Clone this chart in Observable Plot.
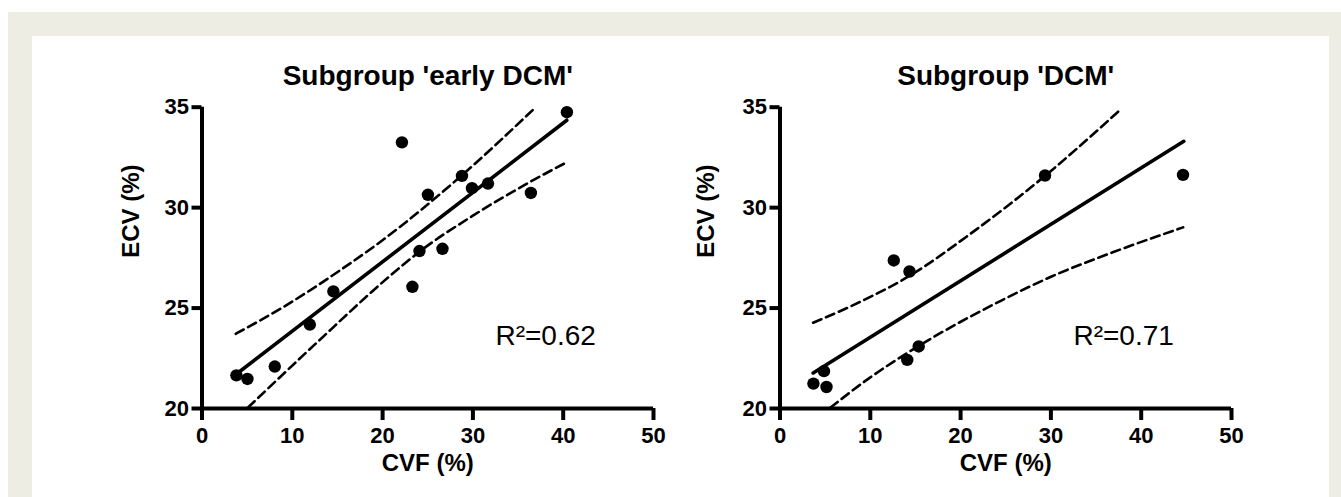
<!DOCTYPE html>
<html>
<head>
<meta charset="utf-8">
<script src="https://cdn.jsdelivr.net/npm/d3@7"></script>
<script src="https://cdn.jsdelivr.net/npm/@observablehq/plot@0.6"></script>
<style>
  html, body { margin: 0; padding: 0; background: #ffffff; }
  body { width: 1341px; height: 497px; position: relative; overflow: hidden; font-family: "Liberation Sans", Arial, sans-serif; }
  #frame { position: absolute; left: 8px; top: 12px; right: 0; bottom: 0; background: #eeede3; }
  #inner { position: absolute; left: 32px; top: 36px; width: 1297px; bottom: 0; background: #ffffff; }
  .panel { position: absolute; top: 0; }
</style>
</head>
<body>
<div id="frame"></div>
<div id="inner"></div>
<div id="left" class="panel" style="left:0px"></div>
<div id="right" class="panel" style="left:670px"></div>
<script>
// ---- data ----
const titles = ["Subgroup 'early DCM'", "Subgroup 'DCM'"];
const r2Labels = ["R²=0.62", "R²=0.71"];
const xLabel = "CVF (%)";
const yLabel = "ECV (%)";
const xTicks = [0, 10, 20, 30, 40, 50];
const yTicks = [20, 25, 30, 35];

// subgroup 'early DCM'
const earlyCVF = [3.81, 5.03, 8.06, 11.94, 14.55, 22.14, 23.3, 24.08, 25.02, 26.63, 28.79, 29.9, 31.67, 36.42, 40.41];
const earlyECV = [21.65, 21.47, 22.09, 24.18, 25.83, 33.25, 26.06, 27.84, 30.64, 27.95, 31.58, 30.97, 31.2, 30.73, 34.75];
const earlyFitCVF = [4.0, 40.4];
const earlyFitECV = [21.78, 34.35];
const earlyUpperCVF = [3.74, 9.0, 15.26, 19.7, 28.5, 36.77];
const earlyUpperECV = [23.72, 25.05, 26.87, 28.28, 31.5, 34.92];
const earlyLowerCVF = [5.1, 13.0, 20.81, 24.06, 30.0, 36.41, 40.4];
const earlyLowerECV = [20.05, 23.4, 26.6, 27.8, 29.6, 31.3, 32.26];

// subgroup 'DCM'
const dcmCVF = [3.70, 4.87, 5.15, 12.6, 14.34, 14.09, 15.36, 29.35, 44.63];
const dcmECV = [21.24, 21.86, 21.07, 27.37, 26.82, 22.42, 23.09, 31.6, 31.63];
const dcmFitCVF = [3.67, 44.72];
const dcmFitECV = [21.77, 33.3];
const dcmUpperCVF = [3.67, 8.17, 14.33, 21.1, 29.4, 37.63];
const dcmUpperECV = [24.27, 25.16, 26.6, 28.7, 31.6, 34.85];
const dcmLowerCVF = [5.6, 10.0, 15.2, 24.4, 30.07, 37.0, 44.65];
const dcmLowerECV = [20.05, 21.55, 23.07, 25.35, 26.57, 27.8, 29.02];

// annotation position (data units)
const r2Pos = {x: 32.5, y: 23.62};

const zip = (xs, ys) => xs.map((x, i) => ({x, y: ys[i]}));

function panel({title, r2, pts, fit, upper, lower, marginLeft, width, ylabDx}) {
  const font = '"Liberation Sans", Arial, Helvetica, sans-serif';
  return Plot.plot({
    width,
    height: 497,
    marginLeft,
    marginRight: width - marginLeft - 451.5,
    marginTop: 106.7,
    marginBottom: 89,
    style: {background: "transparent", overflow: "visible", fontFamily: font, fontSize: "22px", fontWeight: "bold", color: "black"},
    x: {domain: [0, 50], label: null},
    y: {domain: [20, 35], label: null},
    marks: [
      Plot.ruleY([20], {x1: 0, x2: 50, stroke: "black", strokeWidth: 4}),
      Plot.ruleX([0], {y1: 20, y2: 35, stroke: "black", strokeWidth: 4}),
      Plot.axisX({ticks: xTicks, tickSize: 12, tickPadding: 7, strokeWidth: 4, fontSize: 22, fontWeight: "bold", label: null, tickFormat: d3.format("d")}),
      Plot.axisY({ticks: yTicks, tickSize: 10, tickPadding: 3, strokeWidth: 4, fontSize: 22, fontWeight: "bold", label: null, tickFormat: d3.format("d")}),
      Plot.line(upper, {x: "x", y: "y", stroke: "black", strokeWidth: 2.6, strokeDasharray: "9,5", curve: "monotone-x"}),
      Plot.line(lower, {x: "x", y: "y", stroke: "black", strokeWidth: 2.6, strokeDasharray: "9,5", curve: "monotone-x"}),
      Plot.line(fit, {x: "x", y: "y", stroke: "black", strokeWidth: 3.6}),
      Plot.dot(pts, {x: "x", y: "y", r: 6.2, fill: "black", stroke: null}),
      Plot.text([r2], {x: () => r2Pos.x, y: () => r2Pos.y, text: d => d, textAnchor: "start", fontSize: 28, fontWeight: "normal"}),
      Plot.text([title], {frameAnchor: "top", dy: -41.7, text: d => d, fontSize: 28, fontWeight: "bold"}),
      Plot.text([xLabel], {frameAnchor: "bottom", dy: 62.4, text: d => d, fontSize: 24, fontWeight: "bold"}),
      Plot.text([yLabel], {frameAnchor: "left", dx: ylabDx, rotate: -90, text: d => d, fontSize: 24, fontWeight: "bold"})
    ]
  });
}

document.getElementById("left").append(panel({
  title: titles[0], r2: r2Labels[0],
  pts: zip(earlyCVF, earlyECV), fit: zip(earlyFitCVF, earlyFitECV),
  upper: zip(earlyUpperCVF, earlyUpperECV), lower: zip(earlyLowerCVF, earlyLowerECV),
  marginLeft: 201.5, width: 670, ylabDx: -70.5
}));
document.getElementById("right").append(panel({
  title: titles[1], r2: r2Labels[1],
  pts: zip(dcmCVF, dcmECV), fit: zip(dcmFitCVF, dcmFitECV),
  upper: zip(dcmUpperCVF, dcmUpperECV), lower: zip(dcmLowerCVF, dcmLowerECV),
  marginLeft: 109.5, width: 671, ylabDx: -74
}));
</script>
</body>
</html>
